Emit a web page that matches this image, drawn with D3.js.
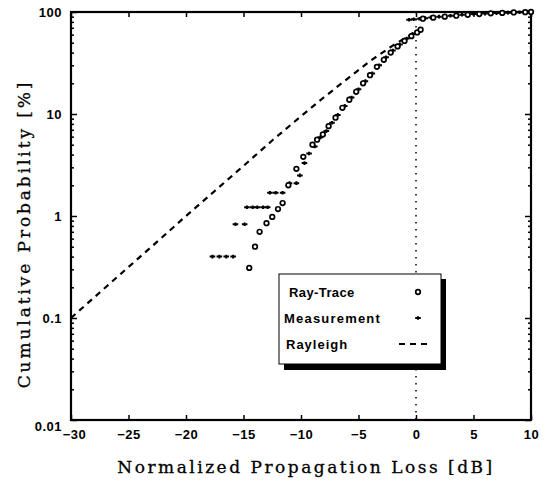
<!DOCTYPE html>
<html>
<head>
<meta charset="utf-8">
<script src="https://cdn.jsdelivr.net/npm/d3@7"></script>
<style>
  body { margin: 0; background: #fff; }
  svg { display: block; }
</style>
</head>
<body>
<script>
// values (loss in dB, cumulative probability in %)
const xTicks = [-30, -25, -20, -15, -10, -5, 0, 5, 10];
const yTicks = [0.01, 0.1, 1, 10, 100];
const yTickLabels = ['0.01', '0.1', '1', '10', '100'];

const rayTraceLoss = [-14.5, -14.0, -13.6, -13.0, -12.5, -12.0, -11.6, -11.1, -10.4, -9.8,
  -9.0, -8.6, -8.1, -7.6, -7.0, -6.4, -5.8, -5.2, -4.6, -4.0, -3.4, -2.8, -2.2, -1.6,
  -1.0, -0.4, 0.1, 0.4, 0.6, 1.5, 2.5, 3.5, 4.5, 5.5, 6.5, 7.5, 8.5, 9.5, 10];
const rayTraceProb = [0.31, 0.5, 0.7, 0.85, 0.98, 1.17, 1.34, 2.0, 2.9, 3.8,
  5.0, 5.6, 6.3, 7.6, 9.2, 11.5, 13.8, 16.5, 20, 24, 29, 34, 40, 46,
  52, 58, 63, 67, 86, 88, 90, 92, 94, 95.5, 97, 98, 99, 99.6, 100];

const measLoss = [-17.7, -17.1, -16.5, -15.9, -15.7, -14.9, -14.7, -14.2, -13.8, -13.3,
  -12.9, -12.7, -12.2, -11.6, -11.0, -10.4, -10.1, -9.7, -9.3, -8.8, -8.3, -7.8, -7.3,
  -6.8, -6.2, -5.6, -5.0, -4.4, -3.8, -3.2, -2.6, -2.0, -1.4, -0.8, -0.3, -0.6, -0.2,
  0.3, 0.8, 1.3, 2.0, 3.0, 4.0, 5.0, 6.0, 7.0, 8.0, 9.0, 10.0];
const measProb = [0.4, 0.4, 0.4, 0.4, 0.83, 0.83, 1.22, 1.22, 1.22, 1.22,
  1.22, 1.69, 1.69, 1.69, 2.1, 2.1, 2.5, 3.3, 4.1, 4.8, 5.9, 6.8, 8.2,
  9.8, 12, 14.5, 17.5, 21, 25, 30, 36, 42, 48, 55, 61, 84, 85,
  86, 87, 88.5, 90, 92, 94, 95.5, 96.5, 97.5, 98.5, 99.3, 100];

const rayleighLoss = [-30, -27.5, -25, -22.5, -20, -17.5, -15, -12.5, -10, -8, -6, -4, -2, -1, -0.4];
const rayleighProb = [0.1, 0.178, 0.316, 0.56, 1.0, 1.76, 3.1, 5.5, 9.5, 14.6, 22, 33, 47, 55, 60];

const legendItems = ['Ray-Trace', 'Measurement', 'Rayleigh'];

const W = 548, H = 492;
const margin = { top: 12, right: 17, bottom: 72, left: 71 };

const svg = d3.select('body').append('svg')
  .attr('width', W)
  .attr('height', H);

const x = d3.scaleLinear().domain([-30, 10]).range([margin.left, W - margin.right]);
const y = d3.scaleLog().domain([0.01, 100]).range([H - margin.bottom, margin.top]);

// minor log ticks 2..9 per decade
const minor = [];
for (let d = 0.01; d < 100; d *= 10) {
  for (let k = 2; k <= 9; k++) minor.push(+(d * k).toPrecision(3));
}

const tickFont = 'bold 13px "Liberation Sans", Arial, sans-serif';

// bottom axis
const gx = svg.append('g')
  .attr('transform', `translate(0,${y(0.01)})`)
  .call(d3.axisBottom(x).tickValues(xTicks).tickSizeInner(-5).tickSizeOuter(0).tickPadding(10)
    .tickFormat(d3.format('d')));
gx.selectAll('text').style('font', tickFont).style('letter-spacing', '0.5px').attr('fill', '#000')
  .attr('dx', d => d === -30 ? 3 : 0);

// top axis (ticks only)
svg.append('g')
  .attr('transform', `translate(0,${y(100)})`)
  .call(d3.axisTop(x).tickValues(xTicks).tickSizeInner(-5).tickSizeOuter(0).tickFormat(''));

// left axis
const gy = svg.append('g')
  .attr('transform', `translate(${x(-30)},0)`)
  .call(d3.axisLeft(y).tickValues(yTicks).tickSizeInner(-6).tickSizeOuter(0).tickPadding(9)
    .tickFormat((d, i) => yTickLabels[i]));
gy.selectAll('text').style('font', tickFont).style('letter-spacing', '0.5px').attr('fill', '#000')
  .attr('dy', d => d === 0.01 ? '0.8em' : '0.32em');
svg.append('g')
  .attr('transform', `translate(${x(-30)},0)`)
  .call(d3.axisLeft(y).tickValues(minor).tickSizeInner(-3).tickSizeOuter(0).tickFormat(''));

// right axis (ticks only)
svg.append('g')
  .attr('transform', `translate(${x(10)},0)`)
  .call(d3.axisRight(y).tickValues(yTicks).tickSizeInner(-6).tickSizeOuter(0).tickFormat(''));
svg.append('g')
  .attr('transform', `translate(${x(10)},0)`)
  .call(d3.axisRight(y).tickValues(minor).tickSizeInner(-3).tickSizeOuter(0).tickFormat(''));

svg.selectAll('.domain').remove();
svg.selectAll('.tick line').attr('stroke', '#000').attr('stroke-width', 1.5);

// frame
svg.append('rect')
  .attr('x', x(-30)).attr('y', y(100))
  .attr('width', x(10) - x(-30)).attr('height', y(0.01) - y(100))
  .attr('fill', 'none').attr('stroke', '#000').attr('stroke-width', 2.2);

// vertical dotted line at 0 dB
svg.append('line')
  .attr('x1', x(0)).attr('x2', x(0))
  .attr('y1', y(100)).attr('y2', y(0.01))
  .attr('stroke', '#000').attr('stroke-width', 1.5)
  .attr('stroke-dasharray', '1.5,5.5');

// Rayleigh
const line = d3.line().x(d => x(d[0])).y(d => y(d[1]));
svg.append('path')
  .datum(d3.zip(rayleighLoss, rayleighProb))
  .attr('d', line)
  .attr('fill', 'none').attr('stroke', '#000').attr('stroke-width', 2.2)
  .attr('stroke-dasharray', '6,5');

// Measurement (+)
const plus = 'M-2.8,0H2.8M0,-1.8V1.8';
svg.append('g').selectAll('path')
  .data(d3.zip(measLoss, measProb))
  .join('path')
  .attr('transform', d => `translate(${x(d[0])},${y(d[1])})`)
  .attr('d', plus)
  .attr('stroke', '#000').attr('stroke-width', 2).attr('fill', 'none');

// Ray-Trace (o)
svg.append('g').selectAll('circle')
  .data(d3.zip(rayTraceLoss, rayTraceProb))
  .join('circle')
  .attr('cx', d => x(d[0])).attr('cy', d => y(d[1]))
  .attr('r', 2.3)
  .attr('fill', '#fff').attr('stroke', '#000').attr('stroke-width', 1.7);

// legend
const lg = svg.append('g');
lg.append('rect').attr('x', 284).attr('y', 279).attr('width', 162).attr('height', 91).attr('fill', '#000');
lg.append('rect').attr('x', 279).attr('y', 274).attr('width', 162).attr('height', 90)
  .attr('fill', '#fff').attr('stroke', '#000').attr('stroke-width', 1);
const legFont = 'bold 13px "Liberation Sans", Arial, sans-serif';
const rowY = [292, 318, 344];
const rowX = [289, 284, 286];
const rowSpacing = ['0.4px', '1.2px', '1px'];
lg.selectAll('text').data(legendItems).join('text')
  .attr('x', (d, i) => rowX[i]).attr('y', (d, i) => rowY[i])
  .attr('dy', '0.35em')
  .style('font', legFont).style('letter-spacing', (d, i) => rowSpacing[i])
  .text(d => d);
lg.append('circle').attr('cx', 418).attr('cy', rowY[0]).attr('r', 2.3)
  .attr('fill', '#fff').attr('stroke', '#000').attr('stroke-width', 1.7);
lg.append('path').attr('transform', `translate(418,${rowY[1]})`).attr('d', plus)
  .attr('stroke', '#000').attr('stroke-width', 2);
lg.append('line').attr('x1', 399).attr('x2', 430).attr('y1', rowY[2]).attr('y2', rowY[2])
  .attr('stroke', '#000').attr('stroke-width', 2.2).attr('stroke-dasharray', '6,5');

// axis titles
const titleFont = '17px "DejaVu Serif", "Liberation Serif", serif';
svg.append('text')
  .attr('x', (x(-30) + x(10)) / 2 + 5).attr('y', 473)
  .attr('text-anchor', 'middle')
  .style('font', titleFont).style('letter-spacing', '2.5px')
  .style('stroke', '#000').style('stroke-width', 0.3)
  .text('Normalized Propagation Loss [dB]');
svg.append('text')
  .attr('transform', `translate(30,${234}) rotate(-90)`)
  .attr('text-anchor', 'middle')
  .style('font', titleFont).style('letter-spacing', '2.9px')
  .style('stroke', '#000').style('stroke-width', 0.3)
  .text('Cumulative Probability [%]');
</script>
</body>
</html>
